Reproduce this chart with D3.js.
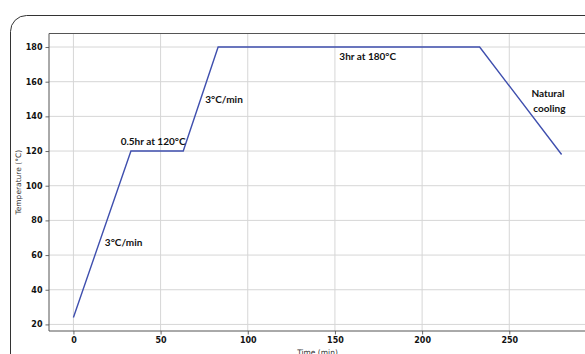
<!DOCTYPE html>
<html>
<head>
<meta charset="utf-8">
<script src="https://cdn.jsdelivr.net/npm/d3@7"></script>
<style>
  html, body { margin: 0; padding: 0; background: #fff; }
  svg { display: block; }
</style>
</head>
<body>
<svg id="chart" width="585" height="354"></svg>
<script>
// ---- data ----
const timeMin = [0, 33, 63, 83, 233, 280];
const tempC   = [24, 120, 120, 180, 180, 118];
const xTicks  = [0, 50, 100, 150, 200, 250];
const yTicks  = [20, 40, 60, 80, 100, 120, 140, 160, 180];
const labelTexts = ["3°C/min", "0.5hr at 120°C", "3°C/min", "3hr at 180°C", "Natural", "cooling"];
const labelX     = [28.8, 45.7, 86.4, 168.8, 272.2, 273];
const labelY     = [65.4, 123.7, 147.7, 172.8, 151, 142.5];
const xTitle = "Time (min)";
const yTitle = "Temperature (°C)";

// ---- layout ----
const svg = d3.select("#chart");
const L = 49, R = 586, T = 33.5, B = 331;

const x = d3.scaleLinear().domain([-14, 294]).range([L, R]);
const y = d3.scaleLinear().domain([16.2, 187.8]).range([B, T]);

// outer rounded frame
svg.append("rect")
  .attr("x", 10.5).attr("y", 15.5)
  .attr("width", 600).attr("height", 360)
  .attr("rx", 16).attr("ry", 16)
  .attr("fill", "none").attr("stroke", "#333").attr("stroke-width", 1);

// grid
const grid = svg.append("g");
grid.selectAll(".gx").data(xTicks).enter().append("line")
  .attr("x1", d => x(d)).attr("x2", d => x(d))
  .attr("y1", T).attr("y2", B)
  .attr("stroke", "#d6d6d6").attr("stroke-width", 1);
grid.selectAll(".gy").data(yTicks).enter().append("line")
  .attr("y1", d => y(d)).attr("y2", d => y(d))
  .attr("x1", L).attr("x2", R)
  .attr("stroke", "#d6d6d6").attr("stroke-width", 1);

// axes
const xAxis = svg.append("g")
  .attr("transform", `translate(0,${B})`)
  .call(d3.axisBottom(x).tickValues(xTicks).tickSize(3.5).tickPadding(3).tickSizeOuter(0));
const yAxis = svg.append("g")
  .attr("transform", `translate(${L},0)`)
  .call(d3.axisLeft(y).tickValues(yTicks).tickSize(3.5).tickPadding(3).tickSizeOuter(0));
[xAxis, yAxis].forEach(a => {
  a.select(".domain").remove();
  a.selectAll(".tick line").attr("stroke", "#444").attr("stroke-width", 0.8);
  a.selectAll(".tick text")
    .attr("fill", "#111")
    .style("font-family", "DejaVu Sans")
    .style("font-weight", "bold")
    .style("font-size", "8px");
});

// spines
svg.append("line").attr("x1", L).attr("x2", L).attr("y1", T).attr("y2", B)
  .attr("stroke", "#555").attr("stroke-width", 1);
svg.append("line").attr("x1", L).attr("x2", R).attr("y1", B).attr("y2", B)
  .attr("stroke", "#555").attr("stroke-width", 1);
svg.append("line").attr("x1", L).attr("x2", R).attr("y1", T).attr("y2", T)
  .attr("stroke", "#555").attr("stroke-width", 1);
svg.append("line").attr("x1", R).attr("x2", R).attr("y1", T).attr("y2", B)
  .attr("stroke", "#555").attr("stroke-width", 1);

// line
const pts = timeMin.map((t, i) => [t, tempC[i]]);
svg.append("path")
  .datum(pts)
  .attr("d", d3.line().x(d => x(d[0])).y(d => y(d[1])))
  .attr("fill", "none")
  .attr("stroke", "#3f4fae")
  .attr("stroke-width", 1.4);

// annotations
svg.selectAll(".ann").data(labelTexts).enter().append("text")
  .attr("x", (d, i) => x(labelX[i]))
  .attr("y", (d, i) => y(labelY[i]))
  .attr("text-anchor", "middle")
  .style("font-family", "Lato, 'Open Sans', sans-serif")
  .style("font-weight", "bold")
  .style("font-size", "10px")
  .attr("fill", "#111")
  .text(d => d);

// axis titles
svg.append("text")
  .attr("x", (L + R) / 2).attr("y", 355)
  .attr("text-anchor", "middle")
  .style("font-family", "DejaVu Sans").style("font-size", "7.5px")
  .attr("fill", "#333")
  .text(xTitle);
svg.append("text")
  .attr("transform", `translate(21,${(T + B) / 2}) rotate(-90)`)
  .attr("text-anchor", "middle")
  .style("font-family", "DejaVu Sans").style("font-size", "7.5px")
  .attr("fill", "#333")
  .text(yTitle);
</script>
</body>
</html>
